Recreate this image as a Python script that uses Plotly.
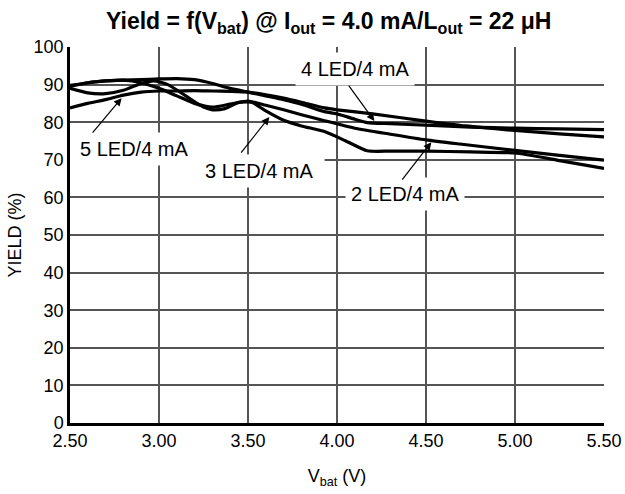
import plotly.graph_objects as go

# ---- data ----
v_2led = [2.50, 2.60, 2.70, 2.80, 2.90, 3.00, 3.10, 3.20, 3.30, 3.40, 3.50, 3.60, 3.70, 3.80, 3.93, 4.10, 4.30, 4.50, 4.69, 5.00, 5.25, 5.50]
y_2led = [89.5, 90.5, 91.0, 91.2, 90.5, 89.0, 87.0, 85.0, 84.0, 84.8, 85.6, 84.5, 83.3, 82.0, 80.4, 78.4, 76.8, 75.3, 74.2, 72.5, 71.2, 69.9]

v_3led = [2.50, 2.60, 2.70, 2.80, 2.90, 2.97, 3.05, 3.15, 3.25, 3.30, 3.37, 3.45, 3.52, 3.60, 3.70, 3.80, 3.93, 4.05, 4.17, 4.30, 4.50, 4.75, 5.00, 5.25, 5.50]
y_3led = [89.0, 87.8, 87.6, 88.5, 90.3, 91.0, 90.0, 87.0, 84.0, 83.3, 83.6, 85.3, 85.3, 83.0, 80.5, 79.0, 77.5, 75.0, 72.4, 72.3, 72.3, 72.1, 71.8, 69.8, 67.7]

v_4led = [2.50, 2.60, 2.70, 2.80, 2.90, 3.00, 3.10, 3.20, 3.30, 3.40, 3.50, 3.60, 3.70, 3.80, 3.93, 4.00, 4.10, 4.17, 4.30, 4.50, 4.75, 5.00, 5.25, 5.50]
y_4led = [89.8, 90.5, 91.0, 91.2, 91.3, 91.5, 91.6, 91.3, 90.3, 89.0, 88.0, 87.0, 86.0, 84.8, 82.8, 82.2, 80.8, 79.9, 79.6, 79.2, 78.7, 78.4, 78.2, 78.0]

v_5led = [2.50, 2.60, 2.70, 2.80, 2.90, 3.00, 3.10, 3.20, 3.30, 3.40, 3.50, 3.60, 3.70, 3.80, 3.93, 4.00, 4.20, 4.50, 4.72, 5.00, 5.25, 5.50]
y_5led = [83.8, 85.0, 86.0, 87.2, 88.0, 88.3, 88.3, 88.4, 88.3, 88.2, 88.0, 87.3, 86.4, 85.3, 83.8, 83.3, 82.2, 80.3, 79.0, 77.8, 76.9, 76.1]

x_ticks = [2.5, 3.0, 3.5, 4.0, 4.5, 5.0, 5.5]
x_tick_labels = ["2.50", "3.00", "3.50", "4.00", "4.50", "5.00", "5.50"]
y_ticks = [0, 10, 20, 30, 40, 50, 60, 70, 80, 90, 100]

FONT = "Liberation Sans, Arial, sans-serif"

fig = go.Figure()
for vx, vy, name in [(v_2led, y_2led, "2 LED/4 mA"), (v_3led, y_3led, "3 LED/4 mA"),
                     (v_4led, y_4led, "4 LED/4 mA"), (v_5led, y_5led, "5 LED/4 mA")]:
    fig.add_trace(go.Scatter(x=vx, y=vy, mode="lines", name=name,
                             line=dict(color="black", width=3.2, shape="spline", smoothing=0.6),
                             showlegend=False, hoverinfo="skip"))

# labels with white boxes that interrupt the grid
labels = [
    ("5 LED/4 mA", 2.86, 72.8),
    ("3 LED/4 mA", 3.56, 67.1),
    ("4 LED/4 mA", 4.10, 94.1),
    ("2 LED/4 mA", 4.38, 60.9),
]
for txt, lx, ly in labels:
    fig.add_annotation(x=lx, y=ly, xref="x", yref="y", text=txt, showarrow=False,
                       bgcolor="white", borderpad=5,
                       font=dict(family=FONT, size=20, color="black"))

# arrows (tail -> head)
arrows = [
    (2.62, 76.8, 2.79, 86.4),
    (3.455, 71.5, 3.62, 81.4),
    (4.06, 90.1, 4.21, 80.3),
    (4.36, 64.3, 4.53, 74.7),
]
for tx, ty, hx, hy in arrows:
    fig.add_annotation(x=hx, y=hy, ax=tx, ay=ty, xref="x", yref="y", axref="x", ayref="y",
                       text="", showarrow=True, arrowhead=2, arrowsize=1.3, arrowwidth=1.2,
                       arrowcolor="black", standoff=0, startstandoff=0)

# part of the 70 % grid line is blank in the reference
fig.add_shape(type="rect", x0=2.5, x1=3.93, y0=69.6, y1=70.4, xref="x", yref="y",
              fillcolor="white", line=dict(width=0), layer="between")

fig.update_layout(
    width=625, height=494,
    margin=dict(l=70, r=21, t=47, b=71),
    paper_bgcolor="white", plot_bgcolor="white",
    font=dict(family=FONT, size=18, color="black"),
    title=dict(text="<b>Yield = f(V<sub>bat</sub>) @ I<sub>out</sub> = 4.0 mA/L<sub>out</sub> = 22 μH</b>",
               x=0.526, xanchor="center", y=0.958, yanchor="middle",
               font=dict(family=FONT, size=23, color="black")),
)
fig.update_xaxes(range=[2.5, 5.5], tickvals=x_ticks, ticktext=x_tick_labels,
                 showgrid=True, gridcolor="#555555", gridwidth=1.5,
                 showline=True, linecolor="black", linewidth=2.5,
                 ticks="", ticklen=0, zeroline=False, automargin=False,
                 title=dict(text="V<sub>bat</sub> (V)", standoff=20, font=dict(size=18)),
                 tickfont=dict(size=18))
fig.update_yaxes(range=[0, 100], tickvals=y_ticks,
                 showgrid=True, gridcolor="#555555", gridwidth=1.5,
                 showline=True, linecolor="black", linewidth=2.5,
                 ticks="", ticklen=0, zeroline=False, automargin=False,
                 title=dict(text="YIELD (%)", standoff=8, font=dict(size=18)),
                 tickfont=dict(size=18))

fig.write_html("out.html", config={"displayModeBar": False},
               post_script="document.body.style.margin='0';")
